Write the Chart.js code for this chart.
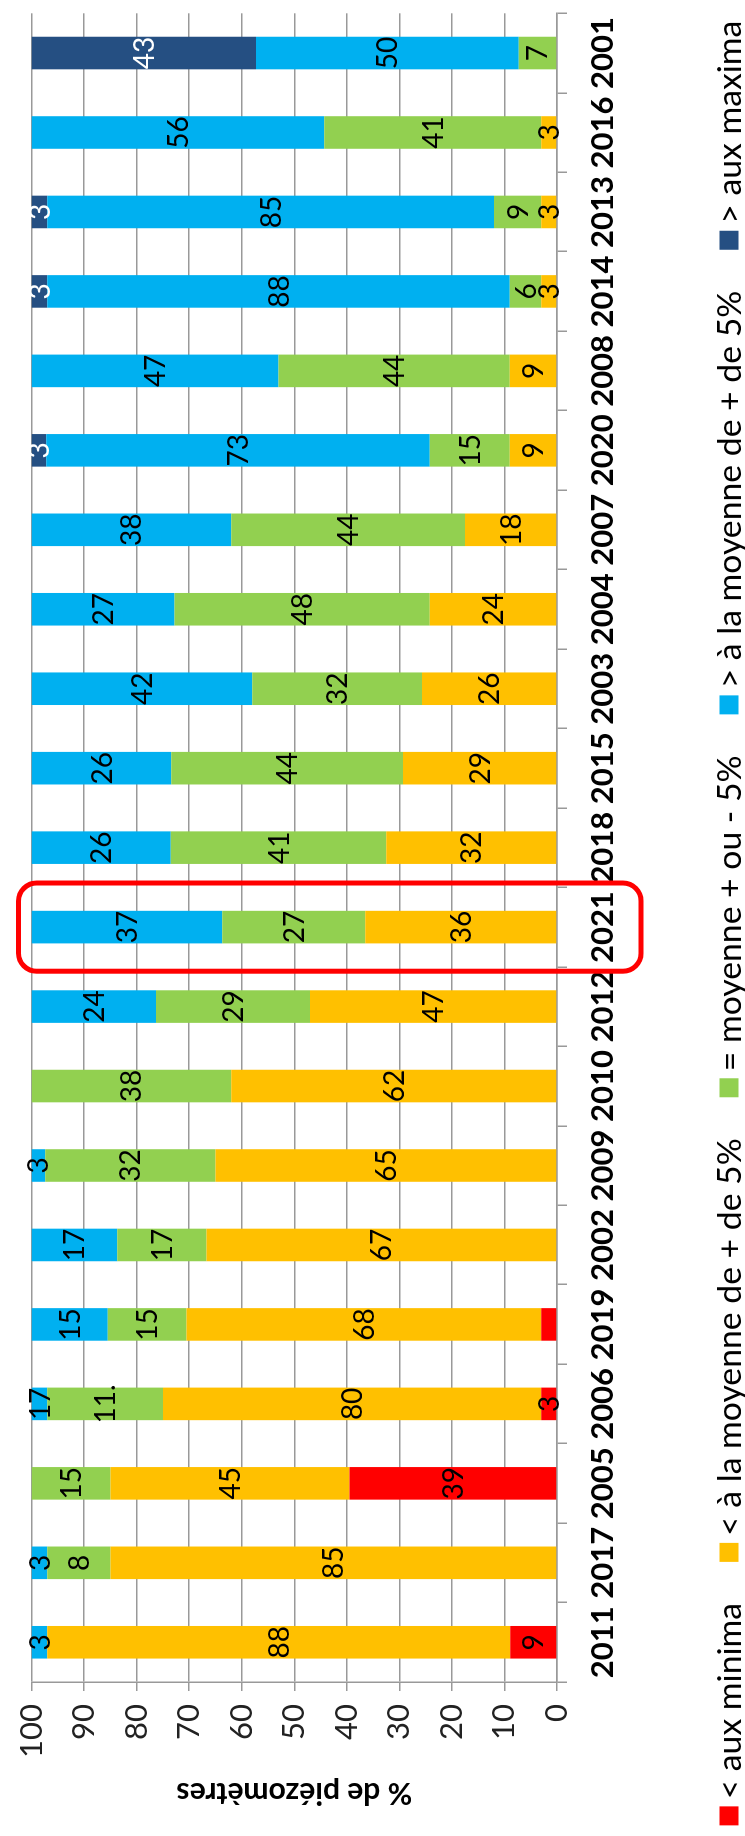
<!DOCTYPE html>
<html><head><meta charset="utf-8">
<script src="https://cdn.jsdelivr.net/npm/chart.js@4"></script>
<style>
html,body{margin:0;padding:0;background:#fff;}
#page{position:relative;width:745px;height:1836px;overflow:hidden;background:#fff;}
#rot{position:absolute;left:0;top:0;width:1836px;height:745px;transform-origin:0 0;transform:translate(0,1836px) rotate(-90deg);}
canvas{display:block;}
</style></head><body>
<div id="page"><div id="rot"><canvas id="c" width="1836" height="745"></canvas></div></div>
<script>
// ---- data ----
const years = ['2011','2017','2005','2006','2019','2002','2009','2010','2012','2021','2018','2015','2003','2004','2007','2020','2008','2014','2013','2016','2001'];
const seriesNames = ['< aux minima','< à la moyenne de + de 5%','= moyenne + ou - 5%','> à la moyenne de + de 5%','> aux maxima'];
const yTicks = [0,10,20,30,40,50,60,70,80,90,100];
const yTitle = '% de piézomètres';
const highlightYear = '2021';

// segment sizes (% of piezometers)
const auxMinima   = [8.9,0,39.5,3,3,0,0,0,0,0,0,0,0,0,0,0,0,0,0,0,0];
const sousMoyenne = [88.1,85,45.5,72,67.5,66.7,65,62,47,36.5,32.5,29.3,25.7,24.2,17.5,9,9,3,3,3,0];
const moyenne     = [0,12,15,22,15,17,32.4,38,29.3,27.2,41,44.1,32.3,48.6,44.5,15.2,44,6,9,41.3,7.3];
const surMoyenne  = [3,3,0,3,14.5,16.3,2.6,0,23.7,36.3,26.5,26.6,42,27.2,38,73,47,88,85,55.7,50];
const auxMaxima   = [0,0,0,0,0,0,0,0,0,0,0,0,0,0,0,2.8,0,3,3,0,42.7];

// value labels as printed on the chart
const lblMinima   = ['9',null,'39','3',null,null,null,null,null,null,null,null,null,null,null,null,null,null,null,null,null];
const lblSous     = ['88','85','45','80','68','67','65','62','47','36','32','29','26','24','18','9','9','3','3','3',null];
const lblMoyenne  = [null,'8','15','11.','15','17','32','38','29','27','41','44','32','48','44','15','44','6','9','41','7'];
const lblSur      = ['3','3',null,'17','15','17','3',null,'24','37','26','26','42','27','38','73','47','88','85','56','50'];
const lblMaxima   = [null,null,null,null,null,null,null,null,null,null,null,null,null,null,null,'3',null,'3','3',null,'43'];

const colors = ['#FF0000','#FFC000','#92D050','#00B0F0','#254F82'];
const labelColors = ['#000','#000','#000','#000','#fff'];
const FONT = 'Lato, "Open Sans", sans-serif';

const valueSets = [auxMinima, sousMoyenne, moyenne, surMoyenne, auxMaxima];
const labelSets = [lblMinima, lblSous, lblMoyenne, lblSur, lblMaxima];

const datasets = valueSets.map((vals, i) => ({
  label: seriesNames[i],
  data: vals,
  backgroundColor: colors[i],
  borderWidth: 0,
  categoryPercentage: 1,
  barPercentage: 0.41,
  valueLabels: labelSets[i],
  valueLabelColor: labelColors[i]
}));

const valueLabelPlugin = {
  id: 'valueLabels',
  afterDatasetsDraw(chart) {
    const ctx = chart.ctx;
    ctx.save();
    ctx.font = '28px ' + FONT;
    ctx.textAlign = 'center';
    ctx.textBaseline = 'middle';
    chart.data.datasets.forEach((ds, di) => {
      const meta = chart.getDatasetMeta(di);
      meta.data.forEach((el, i) => {
        const t = ds.valueLabels[i];
        if (!t) return;
        const p = el.getProps(['x','y','base'], true);
        ctx.fillStyle = ds.valueLabelColor;
        ctx.fillText(t, p.x, (p.y + p.base) / 2 + 1);
      });
    });
    ctx.restore();
  }
};

// bottom legend: fitted to the width the legend occupies in the source chart
const legendPlugin = {
  id: 'bottomLegend',
  afterDraw(chart) {
    const ctx = chart.ctx;
    ctx.save();
    const box = 19, gap = 7, itemGap = 41, textSpan = 1511;
    ctx.font = '32px ' + FONT;
    const raw = chart.data.datasets.reduce((s, d) => s + ctx.measureText(d.label).width, 0);
    const size = Math.min(36, 32 * textSpan / raw);
    ctx.font = size.toFixed(2) + 'px ' + FONT;
    const items = chart.data.datasets.map(d => ({text: d.label, color: d.backgroundColor, w: ctx.measureText(d.label).width}));
    const total = items.reduce((s, it) => s + box + gap + it.w, 0) + itemGap * (items.length - 1);
    let x = (chart.width - total) / 2 - 5;
    const cy = chart.height - 16;
    ctx.textBaseline = 'middle';
    ctx.textAlign = 'left';
    items.forEach(it => {
      ctx.fillStyle = it.color;
      ctx.fillRect(x, cy - box / 2, box, box);
      x += box + gap;
      ctx.fillStyle = '#000';
      ctx.fillText(it.text, x, cy + 1);
      x += it.w + itemGap;
    });
    ctx.restore();
  }
};

const highlightPlugin = {
  id: 'highlight',
  afterDraw(chart) {
    const xs = chart.scales.x, ys = chart.scales.y;
    const idx = years.indexOf(highlightYear);
    const cx = xs.getPixelForValue(idx);
    const cw = xs.width / years.length;
    const left = cx - cw * 0.555, right = cx + cw * 0.555;
    const top = ys.getPixelForValue(100) - 13;
    const bottom = xs.top + 84;
    const ctx = chart.ctx;
    ctx.save();
    ctx.strokeStyle = '#FF0000';
    ctx.lineWidth = 5;
    ctx.beginPath();
    ctx.roundRect(left, top, right - left, bottom - top, 18);
    ctx.stroke();
    ctx.restore();
  }
};

new Chart(document.getElementById('c'), {
  type: 'bar',
  data: { labels: years, datasets },
  plugins: [valueLabelPlugin, legendPlugin, highlightPlugin],
  options: {
    responsive: false,
    animation: false,
    devicePixelRatio: 1,
    layout: { padding: { top: 25, right: 3, left: 20, bottom: 0 } },
    plugins: { legend: { display: false }, tooltip: { enabled: false } },
    scales: {
      x: {
        stacked: true,
        afterFit(s) { s.height = 188; },
        grid: { offset: true, drawOnChartArea: false, drawTicks: true, tickLength: 10, color: '#999', lineWidth: 1.5 },
        border: { display: true, color: '#999', width: 1.5 },
        ticks: { color: '#000', font: { family: FONT, size: 31, weight: 'bold' }, padding: 17, maxRotation: 0, autoSkip: false }
      },
      y: {
        stacked: true,
        min: 0, max: 100,
        afterFit(s) { s.width = 134; },
        afterBuildTicks(s) { s.ticks = yTicks.map(v => ({ value: v })); },
        grid: { color: '#999', lineWidth: 1.5, tickLength: 9 },
        border: { display: true, color: '#999', width: 1.5 },
        ticks: { color: '#222', font: { family: FONT, size: 31 }, padding: 13 },
        title: { display: true, text: yTitle, color: '#000', font: { family: FONT, size: 30, weight: 'bold' }, padding: { top: 5, bottom: 0 } }
      }
    }
  }
});
</script>
</body></html>
